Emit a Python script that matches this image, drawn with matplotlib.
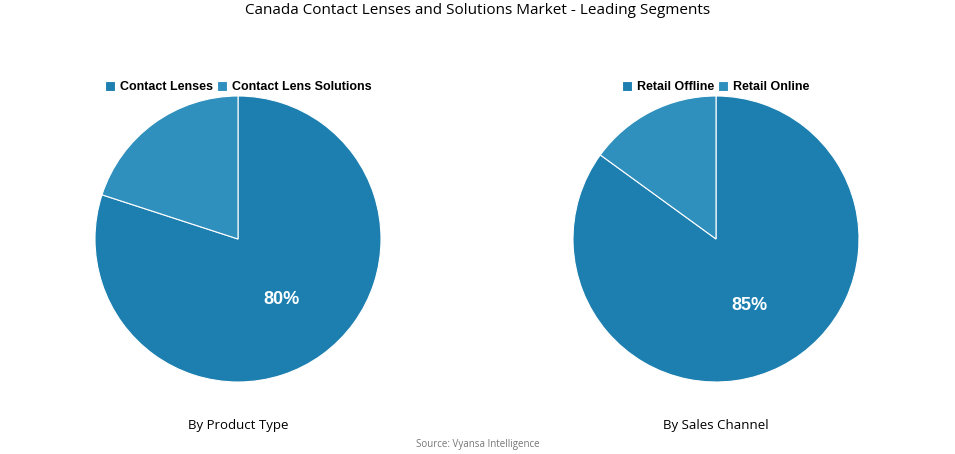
import matplotlib.pyplot as plt
import numpy as np

product_labels = ["Contact Lenses", "Contact Lens Solutions"]
product_values = [80, 20]
channel_labels = ["Retail Offline", "Retail Online"]
channel_values = [85, 15]
colors = ["#1c7fb0", "#2f8fbd"]

fig = plt.figure(figsize=(9.55, 4.54), dpi=100)
W, H = 955, 454
R = 143

def draw(cx, labels, values, subtitle):
    ax = fig.add_axes([(cx - R) / W, 1 - (239 + R) / H, 2 * R / W, 2 * R / H])
    wedges, _ = ax.pie(values, colors=colors, startangle=90, counterclock=False,
                       wedgeprops=dict(edgecolor="white", linewidth=0.8))
    w = wedges[0]
    ang = np.deg2rad((w.theta1 + w.theta2) / 2)
    ax.text(0.52 * np.cos(ang), 0.52 * np.sin(ang), f"{values[0]}%", ha="center", va="center",
            color="white", fontsize=13, fontweight="bold", family="Liberation Sans")
    ax.set_xlim(-1, 1); ax.set_ylim(-1, 1); ax.set_aspect("equal")
    fig.legend(wedges, labels, loc="center", bbox_to_anchor=(cx / W, 1 - 87 / H), ncol=2,
               frameon=False, handlelength=0.8, handleheight=0.8, handletextpad=0.4,
               columnspacing=0.3, prop=dict(family="Liberation Sans", weight="bold", size=9))
    fig.text(cx / W, 1 - 425 / H, subtitle, ha="center", va="center", fontsize=9.5, family="Open Sans")

draw(238, product_labels, product_values, "By Product Type")
draw(716, channel_labels, channel_values, "By Sales Channel")
fig.text(0.5, 1 - 10 / H, "Canada Contact Lenses and Solutions Market - Leading Segments",
         ha="center", va="center", fontsize=11, family="Open Sans")
fig.text(0.5, 1 - 444 / H, "Source: Vyansa Intelligence", ha="center", va="center",
         fontsize=7, color="#777777", family="Open Sans")
fig.savefig("out.png", dpi=100)
